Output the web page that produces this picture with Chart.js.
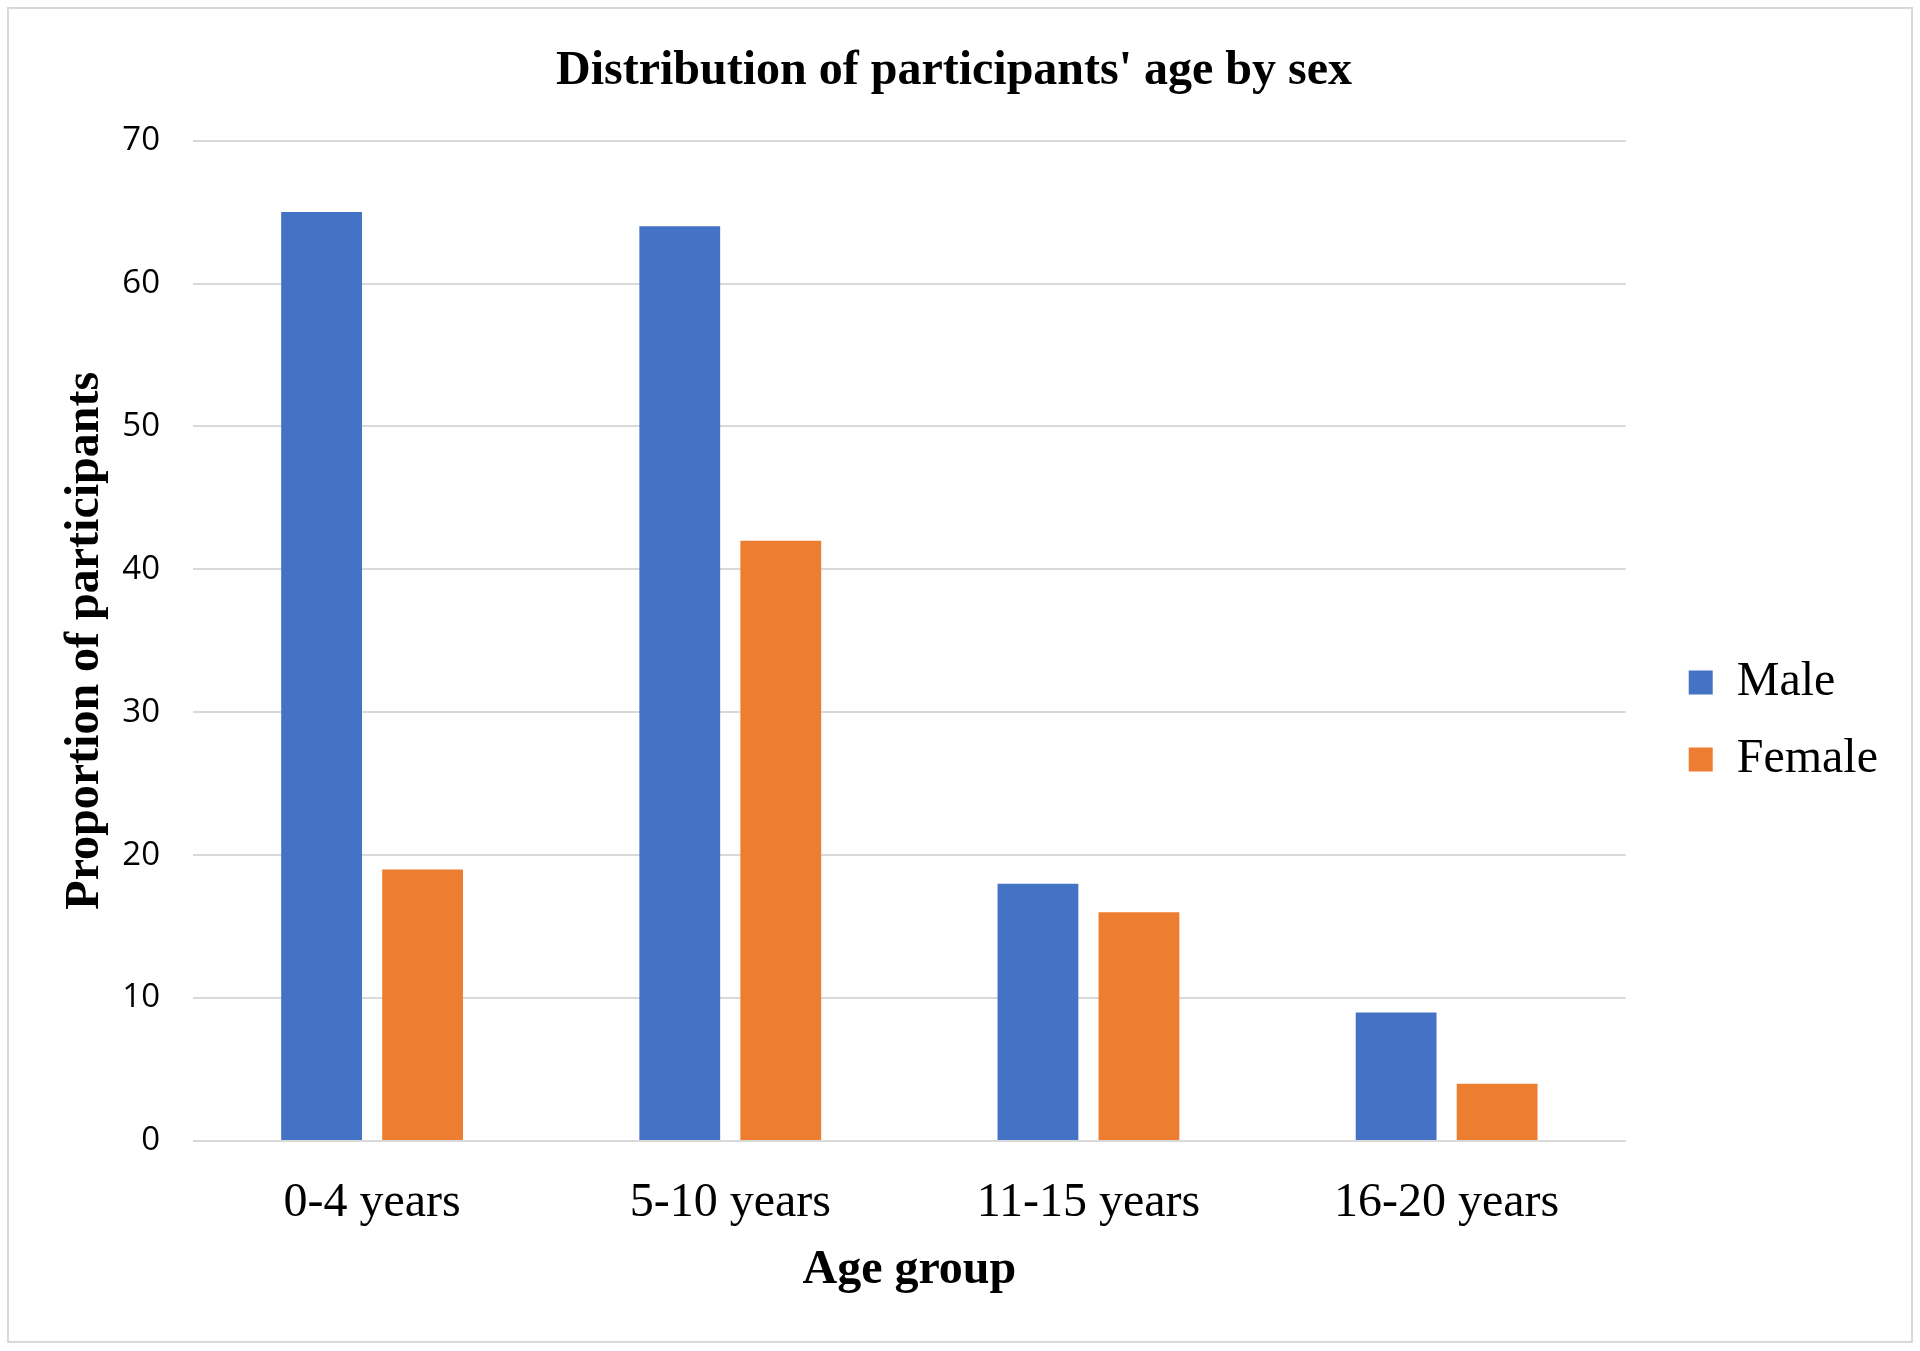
<!DOCTYPE html>
<html>
<head>
<meta charset="utf-8">
<script src="https://cdn.jsdelivr.net/npm/chart.js@4"></script>
<style>
    body { margin: 0; background: #ffffff; }
    #wrap { position: relative; width: 1920px; height: 1351px; }
    #frame {
        position: absolute; left: 7px; top: 7px;
        width: 1902px; height: 1332px;
        border: 2px solid #d9d9d9;
        pointer-events: none;
    }
</style>
</head>
<body>
<div id="wrap">
    <canvas id="ageChart"></canvas>
    <div id="frame"></div>
</div>
<script>
// Chart data
const ageGroups = ['0-4 years', '5-10 years', '11-15 years', '16-20 years'];
const maleValues = [65, 64, 18, 9];
const femaleValues = [19, 42, 16, 4];
const yTicks = [0, 10, 20, 30, 40, 50, 60, 70];

const SERIF = '"Liberation Serif", "Times New Roman", serif';
const SANS = '"Open Sans", "Liberation Sans", sans-serif';

Chart.defaults.color = '#000000';

const ctx = document.getElementById('ageChart').getContext('2d');

const ageChart = new Chart(ctx, {
    type: 'bar',
    data: {
        labels: ageGroups,
        datasets: [
            {
                label: 'Male',
                data: maleValues,
                backgroundColor: '#4472C4',
                borderWidth: 0
            },
            {
                label: 'Female',
                data: femaleValues,
                backgroundColor: '#ED7D31',
                borderWidth: 0
            }
        ]
    },
    options: {
        responsive: true,
        maintainAspectRatio: false,
        animation: false,
        datasets: {
            bar: {
                categoryPercentage: 0.564,
                barPercentage: 0.8
            }
        },
        layout: {
            padding: { top: 7, bottom: 20, left: 20, right: 32 }
        },
        plugins: {
            tooltip: { enabled: false },
            title: {
                display: true,
                text: "Distribution of participants' age by sex",
                color: '#000000',
                font: { family: SERIF, size: 48, weight: 'bold' },
                padding: { top: 36, bottom: 40 }
            },
            legend: {
                position: 'right',
                // empty title only pushes the items down to where they sit in the original
                title: {
                    display: true,
                    text: '',
                    font: { size: 10 },
                    padding: { top: 92, bottom: 0 }
                },
                labels: {
                    boxWidth: 24,
                    boxHeight: 24,
                    padding: 29,
                    color: '#000000',
                    font: { family: SERIF, size: 48 }
                }
            }
        },
        scales: {
            x: {
                grid: { display: false, drawTicks: false },
                border: { display: false },
                ticks: {
                    padding: 34,
                    color: '#000000',
                    font: { family: SERIF, size: 48 }
                },
                title: {
                    display: true,
                    text: 'Age group',
                    color: '#000000',
                    font: { family: SERIF, size: 48, weight: 'bold' },
                    padding: { top: 0, bottom: 32 }
                },
                afterFit: function(scale) {
                    scale.height = 190;
                }
            },
            y: {
                min: yTicks[0],
                max: yTicks[yTicks.length - 1],
                afterBuildTicks: function(scale) {
                    scale.ticks = yTicks.map(v => ({ value: v }));
                },
                grid: {
                    color: '#d9d9d9',
                    lineWidth: 2,
                    drawTicks: false
                },
                border: { display: false },
                ticks: {
                    padding: 33,
                    color: '#000000',
                    font: { family: SANS, size: 33 }
                },
                title: {
                    display: true,
                    text: 'Proportion of participants',
                    color: '#000000',
                    font: { family: SERIF, size: 48, weight: 'bold' },
                    padding: { top: 37, bottom: 0 }
                },
                afterFit: function(scale) {
                    scale.width = 173;
                }
            },
            // spacer between the plot and the legend
            gap: {
                type: 'linear',
                position: 'right',
                display: true,
                grid: { display: false },
                border: { display: false },
                ticks: { display: false },
                afterFit: function(scale) {
                    scale.width = 34;
                }
            }
        }
    }
});
</script>
</body>
</html>
